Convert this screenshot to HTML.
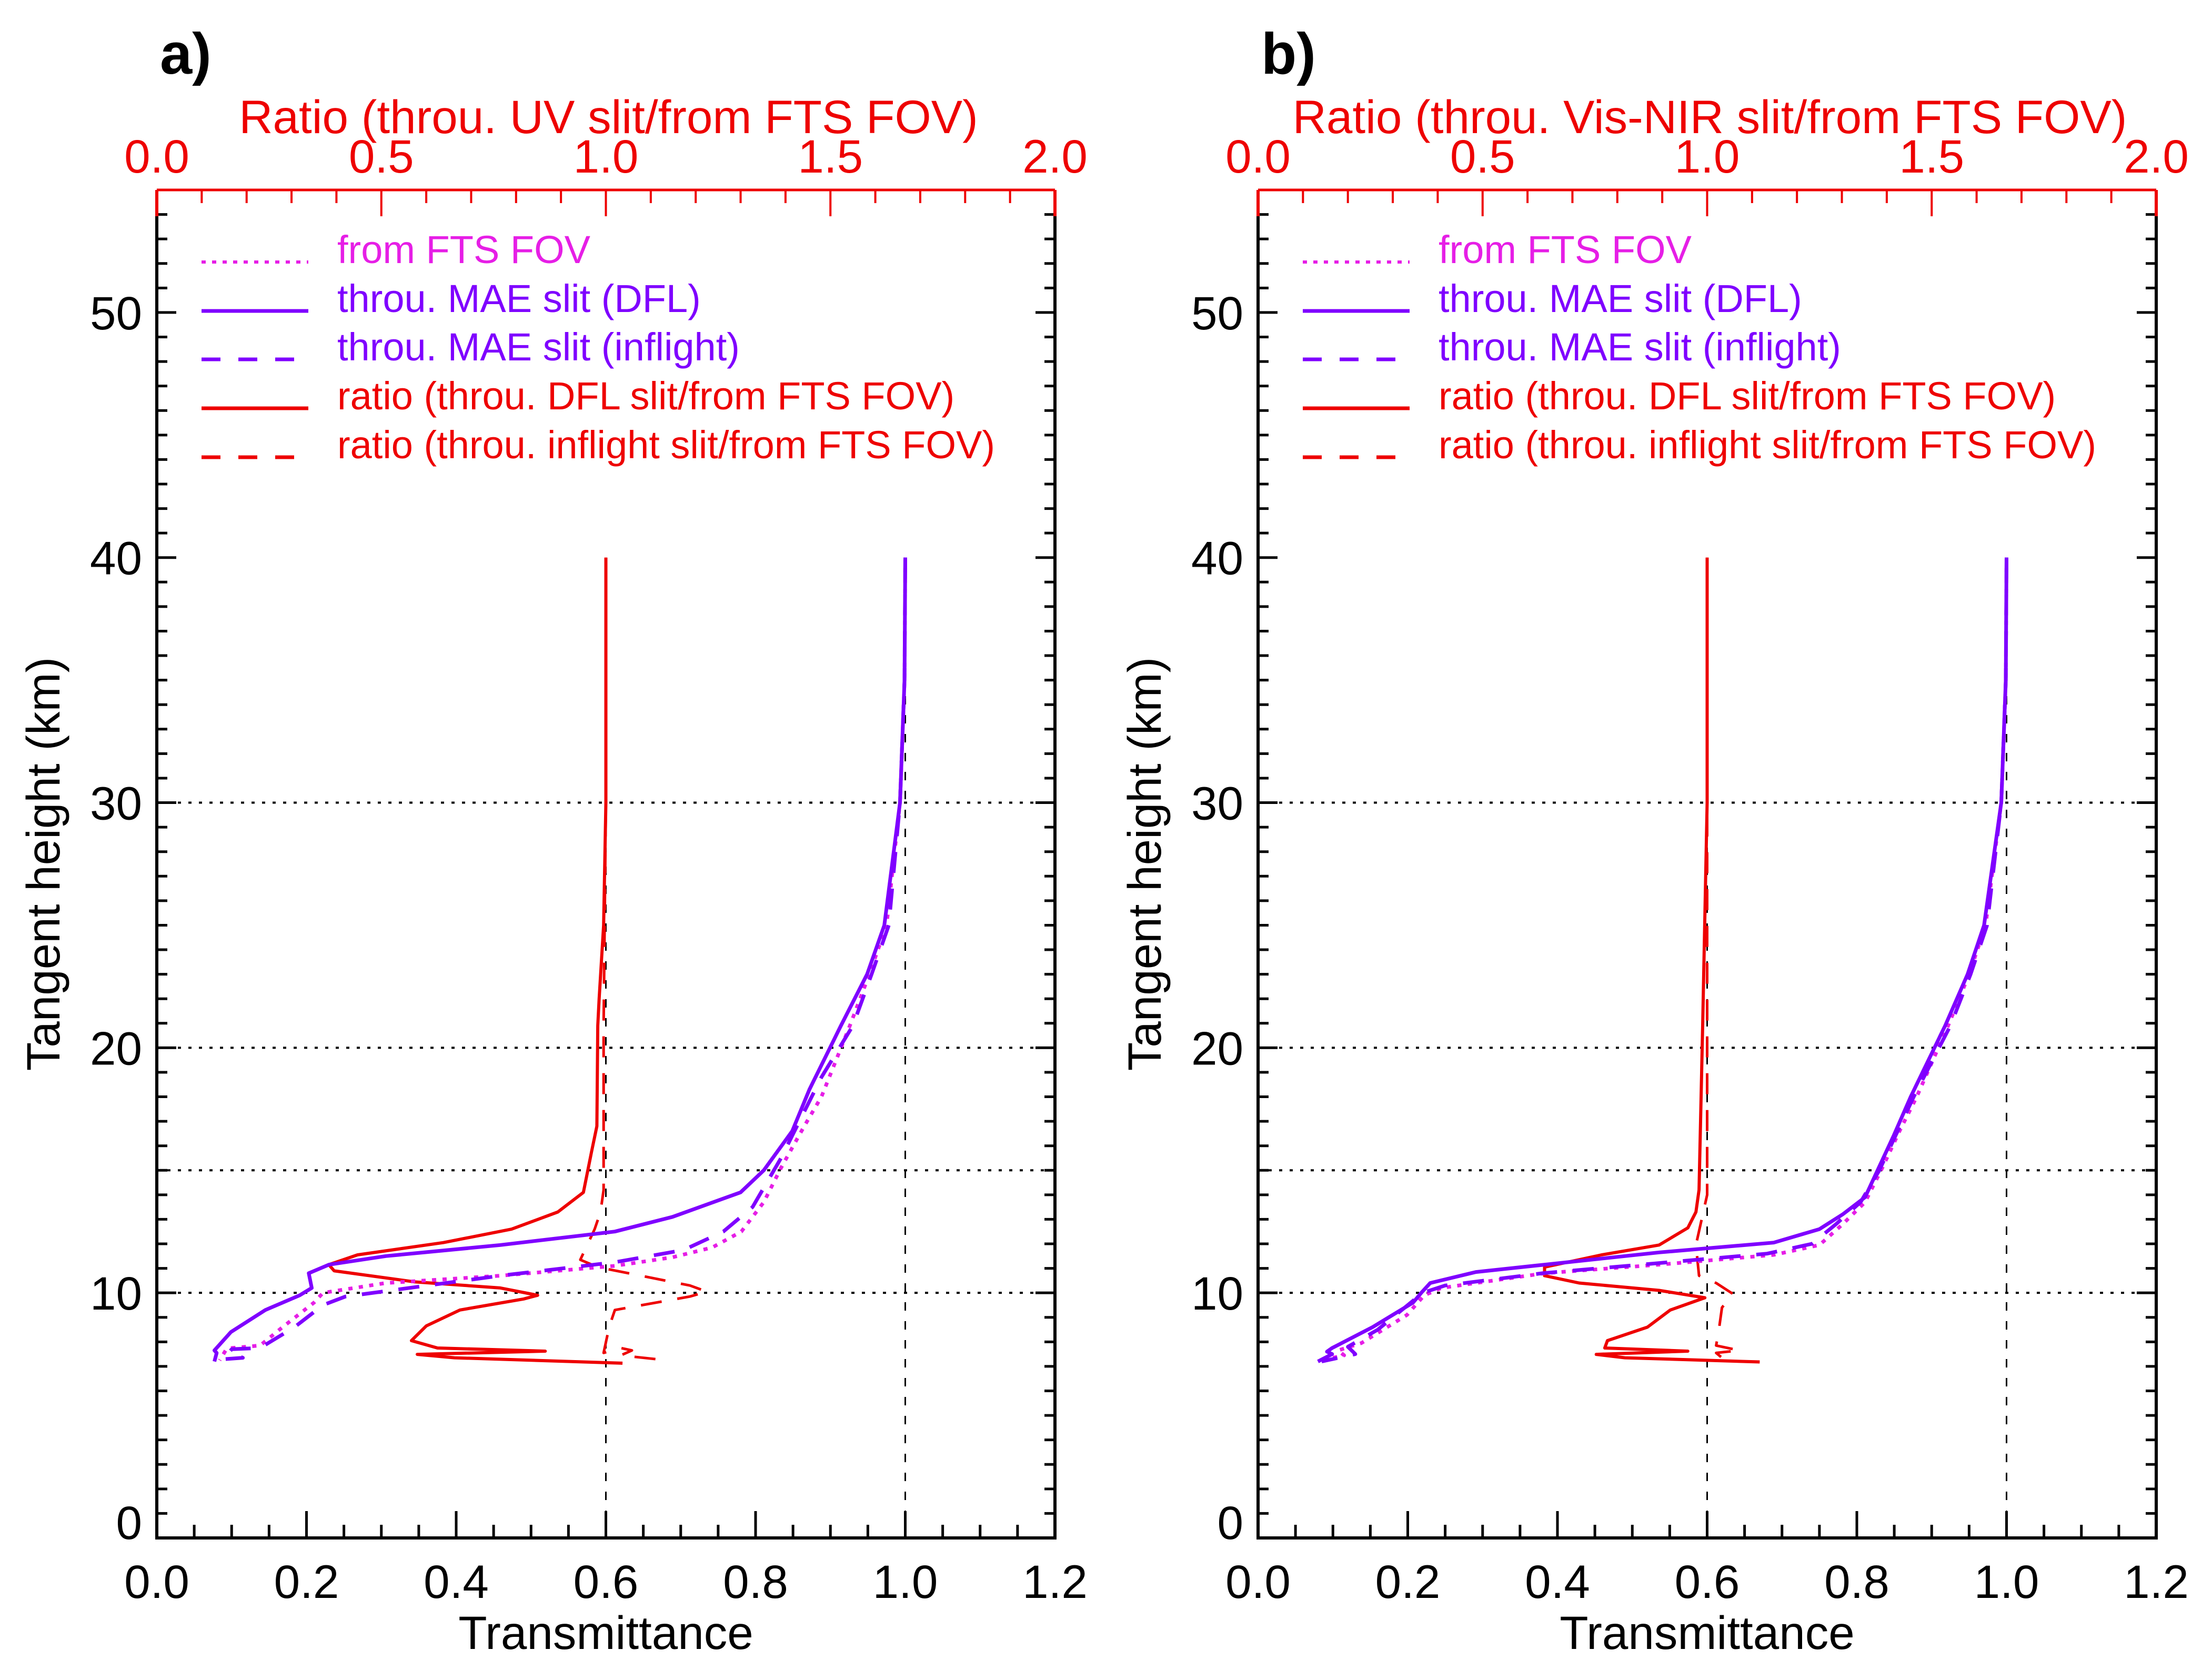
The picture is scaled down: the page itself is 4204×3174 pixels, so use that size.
<!DOCTYPE html>
<html><head><meta charset="utf-8"><style>
html,body{margin:0;padding:0;background:#fff;}
svg{display:block;font-family:"Liberation Sans",Arial,sans-serif;}
</style></head><body>
<svg id="fig" width="4204" height="3174" viewBox="0 0 4204 3174" xmlns="http://www.w3.org/2000/svg"></svg>
<script>
// ---------- data (height km, transmittance or ratio) ----------
const ftsA_h   = [40,35,30,25,23,20.9,18.0,16.8,15.1,13.7,12.5,11.85,11.45,11.1,10.7,10.4,10.0,9.6,8.6,7.85,7.75,7.65,7.25];
const ftsA_t   = [1.0,0.999,0.993,0.975,0.952,0.926,0.888,0.865,0.834,0.811,0.781,0.742,0.689,0.612,0.459,0.306,0.222,0.210,0.168,0.138,0.100,0.092,0.084];
const dflA_h   = [40,35,30,25,23,20.9,18.3,16.6,15.0,14.1,13.1,12.5,11.95,11.5,11.15,10.8,10.2,9.9,9.3,8.4,7.65,7.55,7.2];
const dflA_t   = [1.0,0.999,0.993,0.972,0.949,0.914,0.872,0.849,0.811,0.780,0.689,0.612,0.459,0.306,0.230,0.203,0.207,0.191,0.145,0.099,0.077,0.080,0.077];
const infA_h   = [40,35,30,25,23,20.9,18.8,15.5,13.5,12.5,11.75,11.25,10.7,9.85,9.5,8.6,7.75,7.7,7.55,7.35,7.3];
const infA_t   = [1.0,0.999,0.993,0.978,0.955,0.930,0.888,0.834,0.796,0.757,0.704,0.612,0.459,0.252,0.222,0.184,0.138,0.100,0.096,0.115,0.092];
const rDflA_h  = [40,30,25,22,20.9,16.8,15.75,14.1,13.3,12.6,12.05,11.55,11.15,10.9,10.45,10.2,9.9,9.75,9.3,8.65,8.05,7.75,7.62,7.49,7.35,7.13];
const rDflA_r  = [1.0,1.0,0.995,0.985,0.982,0.98,0.968,0.95,0.893,0.79,0.638,0.447,0.383,0.395,0.573,0.765,0.848,0.817,0.675,0.60,0.567,0.625,0.865,0.58,0.663,1.037];
const rInfA_h  = [40,30,20.9,14.2,13.3,12.6,11.35,11.05,10.3,10.05,9.85,9.3,8.65,8.15,7.55,7.75,7.65,7.45,7.25];
const rInfA_r  = [1.0,1.0,0.995,0.995,0.988,0.975,0.943,0.982,1.187,1.225,1.187,1.02,1.008,1.002,0.995,1.033,1.058,1.033,1.135];

const ftsB_h   = [40,35,30,25,23,20.9,18.0,16.6,15.1,13.7,12.8,11.95,11.55,11.15,10.8,10.2,9.9,9.1,7.95,7.65,7.45,7.25];
const ftsB_t   = [1.0,0.999,0.993,0.972,0.95,0.922,0.880,0.857,0.834,0.811,0.781,0.750,0.689,0.536,0.383,0.245,0.222,0.199,0.138,0.107,0.115,0.084];
const dflB_h   = [40,35,30,25,23,20.9,18.0,16.4,13.9,13.2,12.6,12.05,11.65,11.15,10.85,10.4,10.0,9.6,8.6,7.75,7.6,7.5,7.2];
const dflB_t   = [1.0,0.999,0.993,0.97,0.948,0.918,0.872,0.849,0.811,0.781,0.750,0.689,0.536,0.383,0.291,0.230,0.218,0.207,0.153,0.099,0.092,0.099,0.080];
const infB_h   = [40,35,30,25,23,20.9,18.0,16.5,15.0,13.7,12.8,12.0,11.6,11.2,10.8,10.3,10.0,9.5,8.5,7.8,7.5,7.2];
const infB_t   = [1.0,0.999,0.993,0.974,0.952,0.925,0.876,0.853,0.830,0.805,0.772,0.740,0.680,0.530,0.380,0.250,0.220,0.200,0.160,0.120,0.130,0.085];
const rDflB_h  = [40,30,20.9,14.2,13.3,12.65,11.95,11.55,11.05,10.7,10.4,10.1,9.8,9.3,8.6,8.05,7.75,7.62,7.49,7.35,7.18];
const rDflB_r  = [1.0,1.0,0.99,0.982,0.975,0.957,0.893,0.765,0.638,0.638,0.715,0.893,0.995,0.918,0.867,0.778,0.772,0.957,0.753,0.817,1.117];
const rInfB_h  = [40,30,20.9,14.0,11.95,10.7,10.4,9.95,9.4,8.6,7.85,7.65,7.55,7.35];
const rInfB_r  = [1.0,1.0,1.0,1.0,0.975,0.982,1.02,1.058,1.033,1.027,1.02,1.072,1.02,1.033];

const bottomTicks = ["0.0","0.2","0.4","0.6","0.8","1.0","1.2"];
const topTicks = ["0.0","0.5","1.0","1.5","2.0"];
const leftTicks = ["0","10","20","30","40","50"];

// ---------- drawing ----------
const NS = "http://www.w3.org/2000/svg";
const svg = document.getElementById('fig');
const PURPLE = "#7f00ff", MAG = "#e61ee6", RED = "#ee0000";
function mk(tag, attrs, parent){ const e=document.createElementNS(NS,tag); for(const k in attrs) e.setAttribute(k,attrs[k]); (parent||svg).appendChild(e); return e; }
function txt(s, x, y, size, fill, anchor, parent, weight){ const t=mk('text',{x:x,y:y,'font-size':size,fill:fill,'text-anchor':anchor||'middle'},parent); if(weight) t.setAttribute('font-weight',weight); t.textContent=s; return t; }

function panel(px, label, topTitle, series, id){
  const L=px, R=px+1707, T=361, B=2923;
  const X = t => L + t/1.2*(R-L);
  const XR = r => L + r/2.0*(R-L);
  const Y = h => B - h/55*(B-T);
  const g = mk('g',{});
  
  

  const grid = mk('g',{},g);
  
  
  [10,15,20,30].forEach(h=>{ mk('line',{x1:L,x2:R,y1:Y(h),y2:Y(h),stroke:'#000','stroke-width':4,'stroke-dasharray':'6 14'},grid); });
  [0.6,1.0].forEach(t=>{ mk('line',{x1:X(t),x2:X(t),y1:Y(0),y2:Y(40),stroke:'#000','stroke-width':3,'stroke-dasharray':'16 20'},grid); });

  function path(hs, vs, isRatio, color, w, dash, name){
    let d='';
    for(let i=0;i<hs.length;i++){ const x = isRatio? XR(vs[i]) : X(vs[i]); d += (i?'L':'M')+x.toFixed(1)+' '+Y(hs[i]).toFixed(1); }
    const p = mk('path',{d:d,fill:'none',stroke:color,'stroke-width':w,'stroke-linejoin':'round'},g);
    if(dash) p.setAttribute('stroke-dasharray',dash);
    
    
  }
  path(series.rInf[0], series.rInf[1], true, RED, 5, '40 30', 'ratio-inflight-line');
  path(series.rDfl[0], series.rDfl[1], true, RED, 6, null, 'ratio-dfl-line');
  path(series.fts[0], series.fts[1], false, MAG, 7, '8 12', 'fts-fov-line');
  path(series.inf[0], series.inf[1], false, PURPLE, 7, '40 30', 'mae-inflight-line');
  path(series.dfl[0], series.dfl[1], false, PURPLE, 7, null, 'mae-dfl-line');

  const ax = mk('g',{},g);
  
  
  mk('line',{x1:L,x2:L,y1:T,y2:B,stroke:'#000','stroke-width':6},ax);
  mk('line',{x1:R,x2:R,y1:T,y2:B,stroke:'#000','stroke-width':6},ax);
  mk('line',{x1:L-3,x2:R+3,y1:B,y2:B,stroke:'#000','stroke-width':6},ax);
  for(let h=0; h<=55; h++){
    const len = (h%10===0)?37:20;
    mk('line',{x1:L,x2:L+len,y1:Y(h),y2:Y(h),stroke:'#000','stroke-width':5},ax);
    mk('line',{x1:R,x2:R-len,y1:Y(h),y2:Y(h),stroke:'#000','stroke-width':5},ax);
  }
  for(let i=0;i<=24;i++){
    const t=i*0.05, len=(i%4===0)?51:25;
    mk('line',{x1:X(t),x2:X(t),y1:B,y2:B-len,stroke:'#000','stroke-width':5},ax);
  }
  mk('line',{x1:L,x2:R,y1:T,y2:T,stroke:RED,'stroke-width':5},ax);
  mk('line',{x1:L,x2:L,y1:T,y2:T+50,stroke:RED,'stroke-width':6},ax);
  mk('line',{x1:R,x2:R,y1:T,y2:T+50,stroke:RED,'stroke-width':6},ax);
  for(let i=0;i<=20;i++){
    const r=i*0.1, len=(i%5===0)?50:25;
    mk('line',{x1:XR(r),x2:XR(r),y1:T,y2:T+len,stroke:RED,'stroke-width':4},ax);
  }
  bottomTicks.forEach((s,i)=>{ txt(s, X(i*0.2), 3037, 89, '#000', 'middle', ax); });
  topTicks.forEach((s,i)=>{ txt(s, XR(i*0.5), 328, 89, RED, 'middle', ax); });
  leftTicks.forEach((s,i)=>{ const yy = Y(i*10) + 32 - (i===0?30:0); txt(s, L-28, yy, 89, '#000', 'end', ax); });

  const xt = txt('Transmittance', (L+R)/2, 3134, 89, '#000', 'middle', g);
   
  const tt = txt(topTitle, (L+R)/2 + 5, 253, 89, RED, 'middle', g);
   
  const yt = txt('Tangent height (km)', 0, 0, 89, '#000', 'middle', g);
  yt.setAttribute('transform','translate('+(L-185)+',1642) rotate(-90)');
   
  const pl = txt(label, L+6, 140, 110, '#000', 'start', g, 'bold');
   

  const lg = mk('g',{},g);
  
  
  const items = [
    ['from FTS FOV', MAG, '8 12', 6],
    ['throu. MAE slit (DFL)', PURPLE, null, 7],
    ['throu. MAE slit (inflight)', PURPLE, '36 34', 7],
    ['ratio (throu. DFL slit/from FTS FOV)', RED, null, 7],
    ['ratio (throu. inflight slit/from FTS FOV)', RED, '36 34', 7]];
  const base=[500,593,685,778,871];
  items.forEach((it,i)=>{
    const e = mk('g',{},lg);
    
    
    const ln = mk('line',{x1:L+85,x2:L+288,y1:base[i]-2,y2:base[i]-2,stroke:it[1],'stroke-width':it[3]},e);
    if(it[2]) ln.setAttribute('stroke-dasharray',it[2]);
    txt(it[0], L+343, base[i], 74, it[1], 'start', e);
  });
}

panel(298, 'a)', 'Ratio (throu. UV slit/from FTS FOV)',
  {fts:[ftsA_h,ftsA_t], dfl:[dflA_h,dflA_t], inf:[infA_h,infA_t], rDfl:[rDflA_h,rDflA_r], rInf:[rInfA_h,rInfA_r]}, 'panel-a');
panel(2391, 'b)', 'Ratio (throu. Vis-NIR slit/from FTS FOV)',
  {fts:[ftsB_h,ftsB_t], dfl:[dflB_h,dflB_t], inf:[infB_h,infB_t], rDfl:[rDflB_h,rDflB_r], rInf:[rInfB_h,rInfB_r]}, 'panel-b');
</script>
</body></html>
